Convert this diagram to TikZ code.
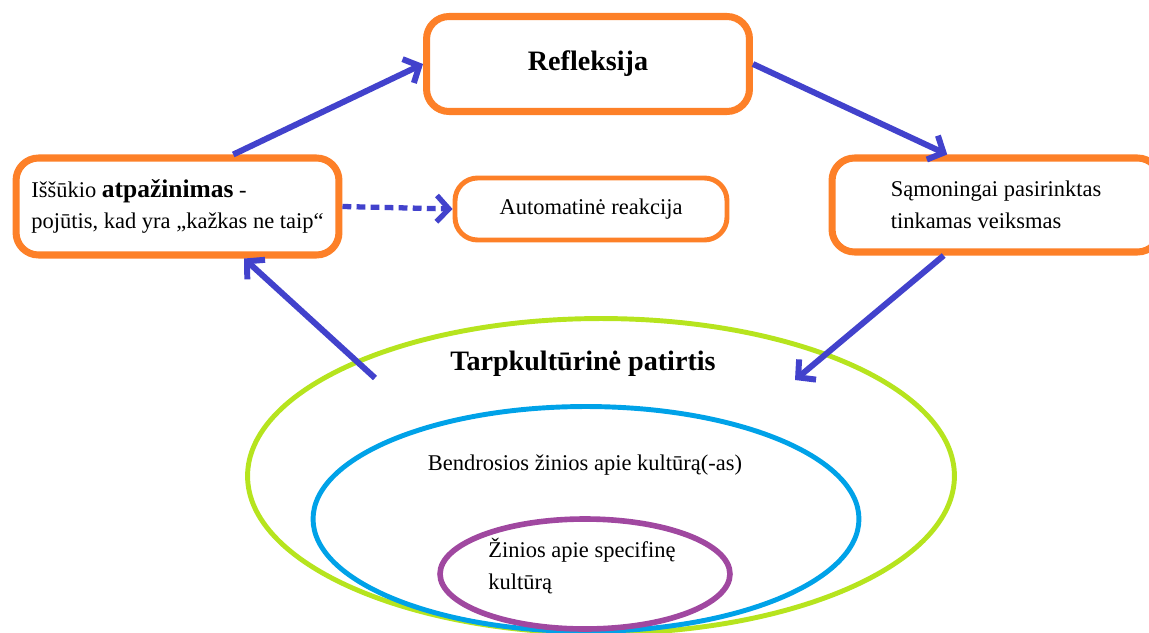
\documentclass[tikz,border=0pt]{standalone}
\usepackage{fontspec}
\setmainfont{Liberation Serif}
\usetikzlibrary{shapes.geometric,arrows.meta}
\definecolor{boxorange}{RGB}{253,128,40}
\definecolor{arrowblue}{RGB}{66,66,204}
\definecolor{ovalgreen}{RGB}{182,228,30}
\definecolor{ovalblue}{RGB}{0,162,232}
\definecolor{ovalpurple}{RGB}{160,72,160}

\begin{document}
\begin{tikzpicture}[x=0.02cm,y=-0.02cm,
  box/.style={draw=boxorange,line width=4pt,rounded corners=0.45cm,fill=white},
  oval/.style={ellipse,line width=2.8pt,inner sep=0pt},
  flow/.style={draw=arrowblue,line width=3.4pt,-{Straight Barb[length=7pt,width=15pt]}}]
\useasboundingbox (0,0) rectangle (1149,632);
\clip (0,0) rectangle (1149,632);
\begin{scope}[every node/.style={font=\fontsize{12.8}{18}\selectfont}]
\node[oval,draw=ovalgreen,minimum width=14.14cm,minimum height=6.3cm] (patirtis) at (601,476) {};
\node[oval,draw=ovalblue,minimum width=10.92cm,minimum height=4.5cm] (bendros) at (586,519) {};
\node[oval,draw=ovalpurple,line width=3.2pt,minimum width=5.8cm,minimum height=2.2cm] (specif) at (585,574) {};
\node[font=\fontsize{16}{19}\selectfont\bfseries] (tarp) at (583,364) {Tarpkultūrinė patirtis};
\node (bendr) at (585,465) {Bendrosios žinios apie kultūrą(-as)};
\node[align=left] (zinios) at (582,566) {Žinios apie specifinę\\kultūrą};
\node[box,minimum width=6.46cm,minimum height=1.9cm,font=\fontsize{16}{19}\selectfont\bfseries] (refl) at (588,64) {Refleksija};
\node[box,minimum width=6.46cm,minimum height=1.94cm,align=left] (atpaz) at (177.5,206.5)
  {Iššūkio {\fontsize{14.5}{18}\selectfont\bfseries atpažinimas} -\\pojūtis, kad yra „kažkas ne taip“};
\node[box,line width=2.8pt,minimum width=5.44cm,minimum height=1.24cm] (autom) at (591,209) {Automatinė reakcija};
\node[box,minimum width=6.56cm,minimum height=1.88cm,align=left] (samon) at (996,205)
  {Sąmoningai pasirinktas\\tinkamas veiksmas};
\end{scope}
\coordinate (inA) at (795,380);
\coordinate (outB) at (375,378);
\draw[flow] (atpaz.43) -- (refl.west);
\draw[flow] (refl.east) -- (samon.134);
\draw[flow] (samon.224) -- (inA);
\draw[flow] (outB) -- (atpaz.-38);
\draw[flow,line width=3pt,dash pattern=on 5pt off 3pt] (atpaz.east) -- (autom.west);
\end{tikzpicture}
\end{document}
